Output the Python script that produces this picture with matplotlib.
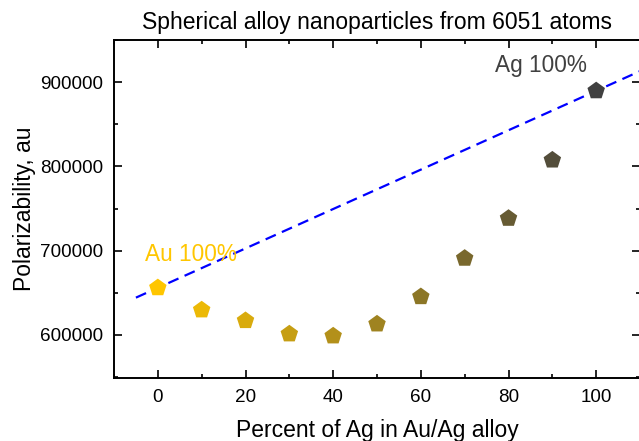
import matplotlib

matplotlib.use("Agg")
import matplotlib.pyplot as plt  # noqa: E402
import numpy as np  # noqa: E402
from matplotlib.colors import LinearSegmentedColormap  # noqa: E402
from matplotlib.ticker import MultipleLocator  # noqa: E402

# values
ag_percent = [0, 10, 20, 30, 40, 50, 60, 70, 80, 90, 100]
polarizability = [656000, 629700, 617000, 601200, 598800, 613000,
                  645400, 691000, 738400, 807600, 889800]
line_x = [-5, 110]
au_label = "Au 100%"
ag_label = "Ag 100%"

plt.rcParams["font.family"] = ["Liberation Sans", "DejaVu Sans"]

gold = "#FFC600"
grey = "#404040"
cmap = LinearSegmentedColormap.from_list("au_ag", [gold, grey])

fig = plt.figure(figsize=(6.39, 4.41), dpi=100)
ax = fig.add_axes([0.1784, 0.143, 0.8232, 0.766])

# linear mixing rule between the two pure metals
x0, x1 = ag_percent[0], ag_percent[-1]
y0, y1 = polarizability[0], polarizability[-1]
lx = np.array(line_x, dtype=float)
ly = y0 + (lx - x0) * (y1 - y0) / (x1 - x0)
ax.plot(lx, ly, color="#0000FF", linestyle=(0, (5, 3)), linewidth=1.6, zorder=2)

fracs = np.array(ag_percent, dtype=float) / 100.0
ax.scatter(ag_percent, polarizability, marker="p", s=175,
           c=[cmap(f) for f in fracs], edgecolors="none", zorder=3)

ax.text(-3, 695000, au_label, color=gold, fontsize=16.3, va="center", ha="left")
ax.text(77, 920000, ag_label, color=grey, fontsize=16.3, va="center", ha="left")

ax.set_xlim(-10, 110)
ax.set_ylim(549000, 950000)
ax.xaxis.set_major_locator(MultipleLocator(20))
ax.xaxis.set_minor_locator(MultipleLocator(10))
ax.yaxis.set_major_locator(MultipleLocator(100000))
ax.yaxis.set_minor_locator(MultipleLocator(50000))
ax.tick_params(which="both", direction="in", top=True, right=True,
               width=1.2, labelsize=13.6, pad=8)
ax.tick_params(which="major", length=6)
ax.tick_params(which="minor", length=3)
for sp in ax.spines.values():
    sp.set_linewidth(1.4)

ax.set_xlabel("Percent of Ag in Au/Ag alloy", fontsize=16.5, labelpad=9)
ax.set_ylabel("Polarizability, au", fontsize=16.5, labelpad=3)
ax.set_title("Spherical alloy nanoparticles from 6051 atoms", fontsize=16.5, pad=8)

fig.savefig("out.png", dpi=100)
